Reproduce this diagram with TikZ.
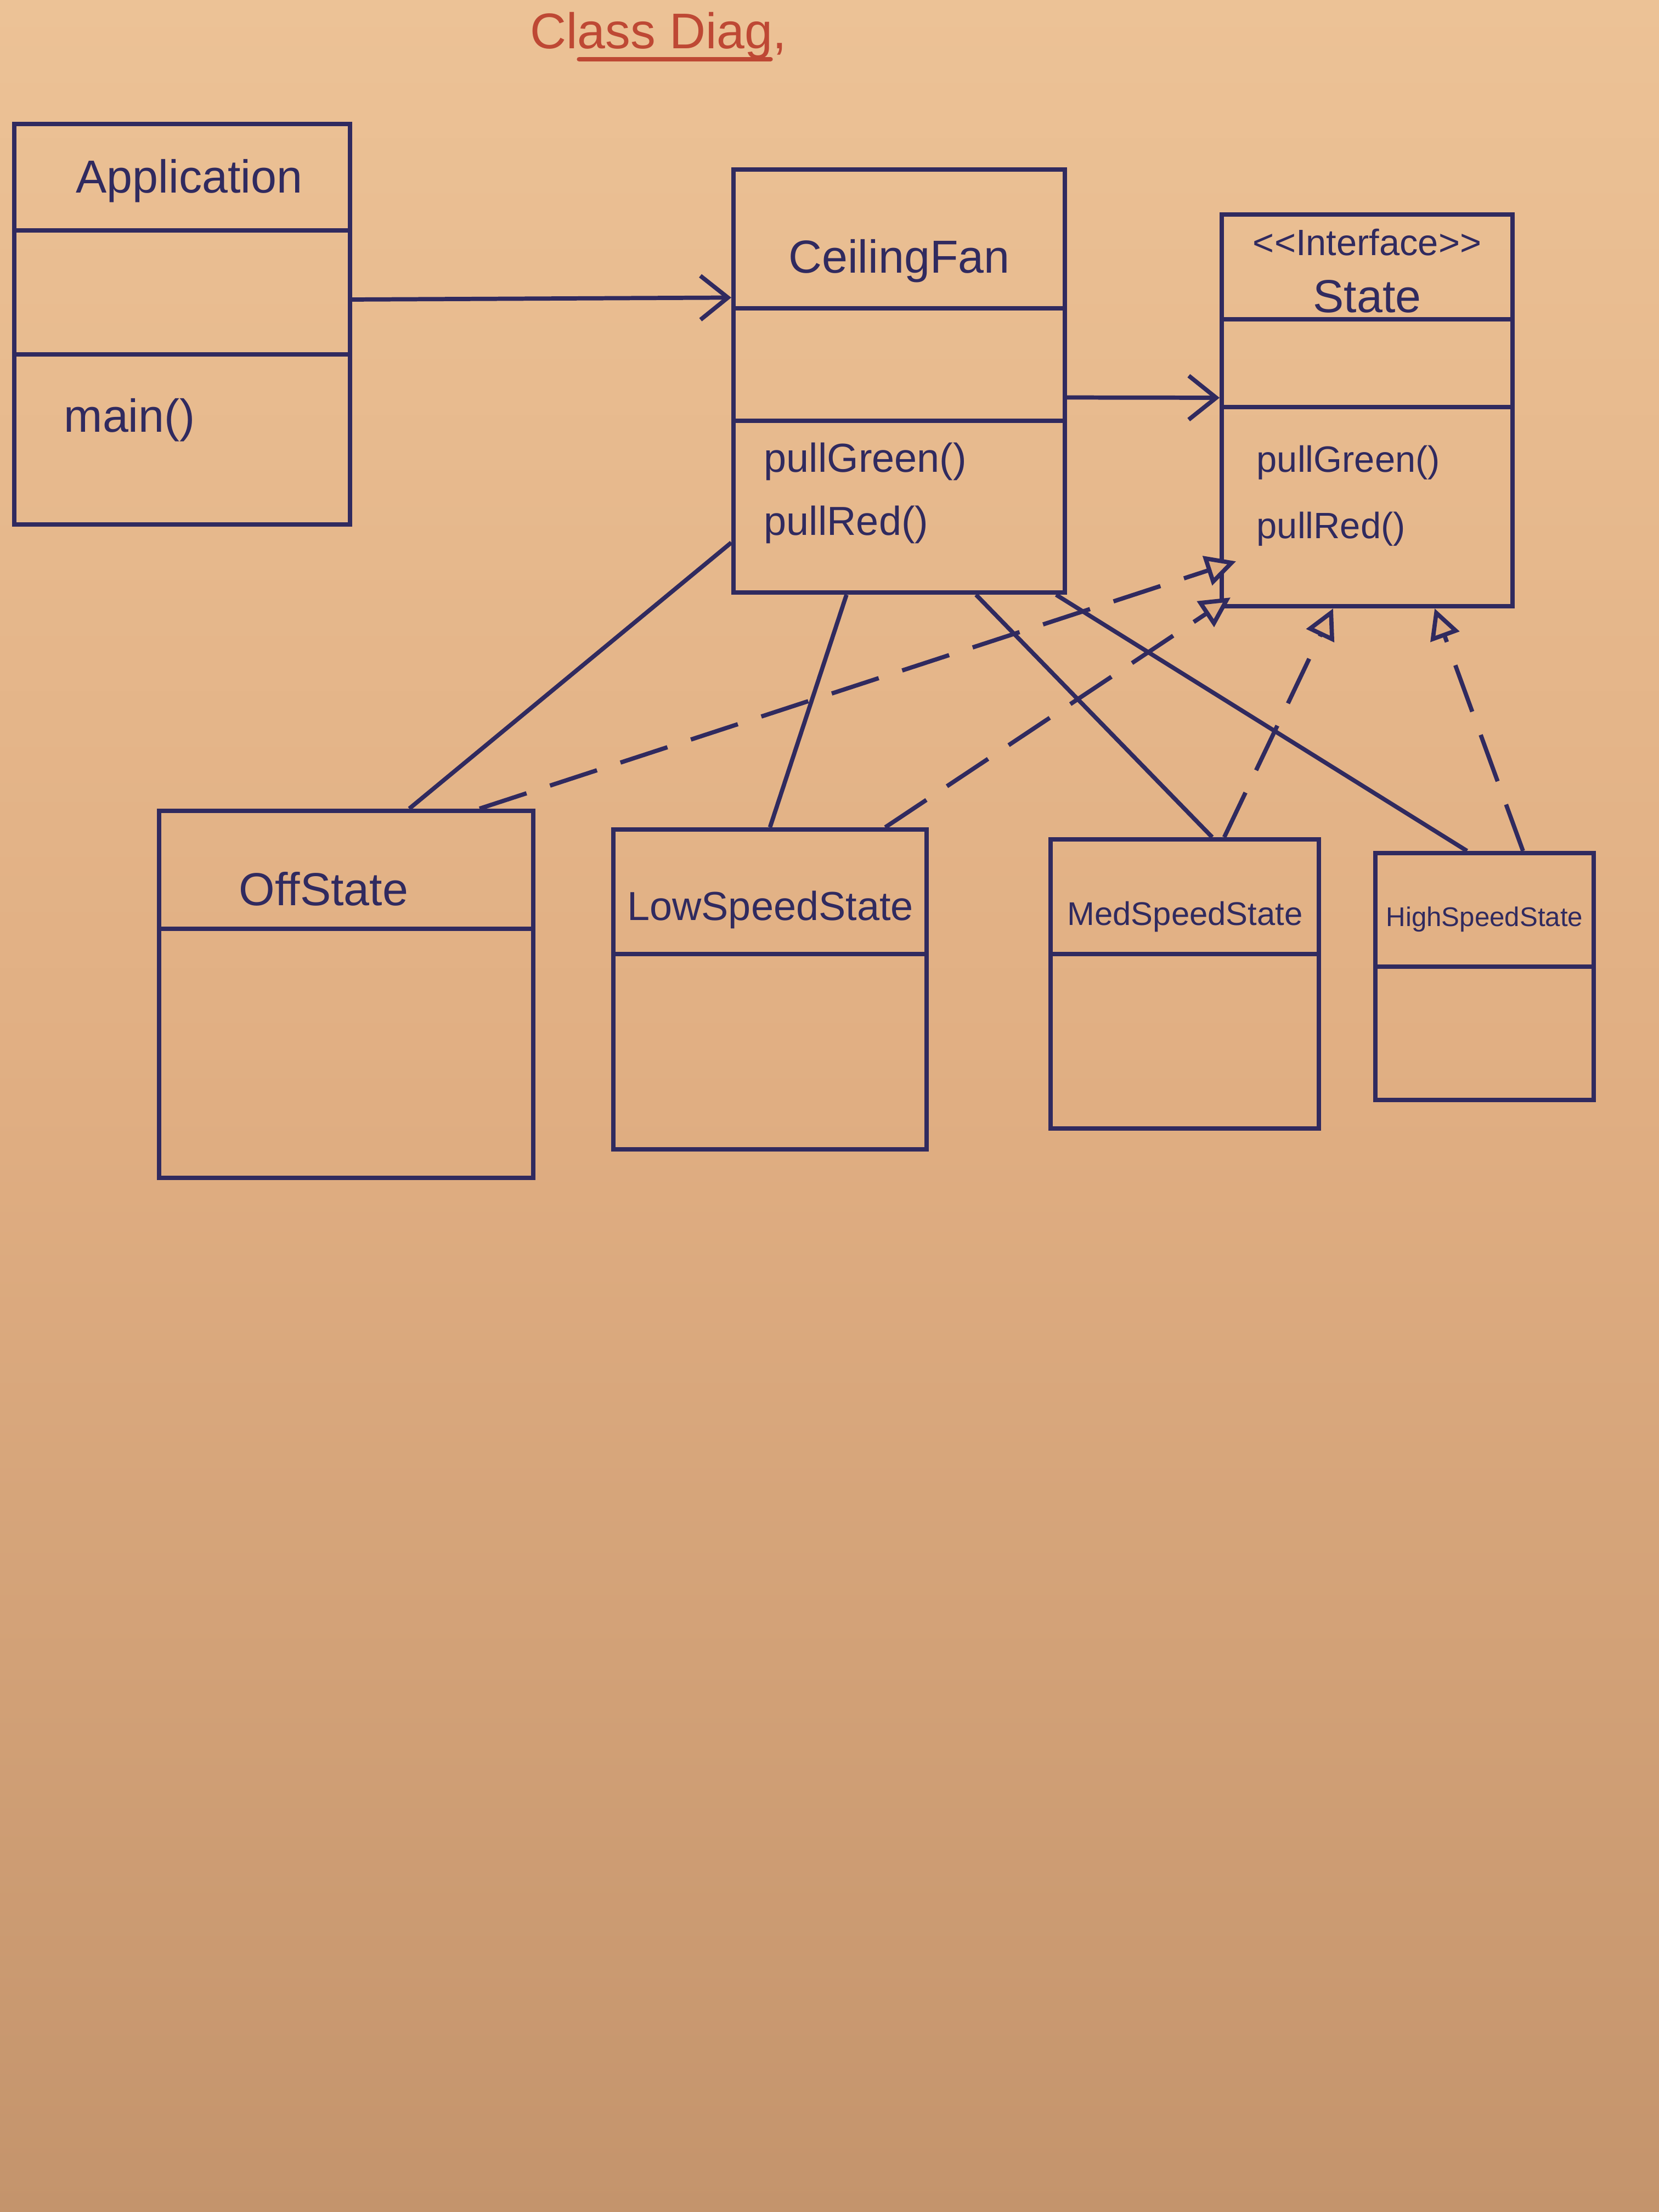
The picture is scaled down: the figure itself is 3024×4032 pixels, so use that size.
\documentclass[tikz,border=0pt]{standalone}
\usepackage{fontspec}
\setmainfont{Liberation Sans}
\usetikzlibrary{arrows.meta,calc}
\definecolor{ink}{RGB}{48,42,95}
\definecolor{paperA}{RGB}{236,194,150}
\definecolor{paperB}{RGB}{224,174,130}
\definecolor{paperC}{RGB}{196,148,108}
\definecolor{redink}{RGB}{190,72,52}
\begin{document}
\begin{tikzpicture}[x=0.01cm,y=-0.01cm,
  classbox/.style={draw=ink,line width=2.2pt,rectangle,inner sep=0pt},
  divider/.style={draw=ink,line width=2.2pt},
  lbl/.style={text=ink,inner sep=0pt,font=\fontsize{24}{28}\selectfont},
  lblm/.style={text=ink,inner sep=0pt,font=\fontsize{21}{25}\selectfont},
  lbls/.style={text=ink,inner sep=0pt,font=\fontsize{19}{23}\selectfont},
  assoc/.style={draw=ink,line width=2.2pt,-{Straight Barb[length=0.5cm,width=0.8cm]}},
  link/.style={draw=ink,line width=2.2pt},
  realize/.style={draw=ink,line width=2.2pt,dash pattern=on 0.9cm off 0.45cm,
     -{Triangle[length=0.55cm,width=0.55cm,fill=paperB,line width=2.2pt]}}
]
% paper
\shade[top color=paperA,bottom color=paperC,middle color=paperB] (0,0) rectangle (3024,4032);
\useasboundingbox (0,0) rectangle (3024,4032);

% title
\node[text=redink,inner sep=0pt,anchor=base,font=\fontsize{26}{30}\selectfont] (title) at (1200,88) {Class Diag,};
\draw[redink,line width=2.4pt,line cap=round] ([xshift=0.9cm,yshift=-0.2cm]title.base west) -- ([xshift=-0.3cm,yshift=-0.2cm]title.base east);

% Application
\node[classbox,minimum width=6.12cm,minimum height=7.3cm] (app) at (332,591) {};
\draw[divider] ([yshift=-1.98cm]app.north west) -- ([yshift=-1.98cm]app.north east);
\draw[divider] ([yshift=-4.24cm]app.north west) -- ([yshift=-4.24cm]app.north east);
\node[lbl] (appname) at (345,330) {Application};
\node[lbl,anchor=west] (appmain) at (116,766) {main()};

% CeilingFan
\node[classbox,minimum width=6.04cm,minimum height=7.71cm] (fan) at (1639,694.5) {};
\draw[divider] ([yshift=-2.57cm]fan.north west) -- ([yshift=-2.57cm]fan.north east);
\draw[divider] ([yshift=-4.62cm]fan.north west) -- ([yshift=-4.62cm]fan.north east);
\node[lbl] (fanname) at (1639,476) {CeilingFan};
\node[lblm,anchor=west] (fang) at (1392,841) {pullGreen()};
\node[lblm,anchor=west] (fanr) at (1392,956) {pullRed()};

% State interface
\node[classbox,minimum width=5.3cm,minimum height=7.14cm] (state) at (2492,748) {};
\draw[divider] ([yshift=-1.95cm]state.north west) -- ([yshift=-1.95cm]state.north east);
\draw[divider] ([yshift=-3.55cm]state.north west) -- ([yshift=-3.55cm]state.north east);
\node[lbls] (stster) at (2492,442) {\textless\kern0pt\textless Interface\textgreater\kern0pt\textgreater};
\node[lbl] (stname) at (2492,540) {State};
\node[lbls,anchor=west] (stg) at (2290,843) {pullGreen()};
\node[lbls,anchor=west] (str) at (2290,964) {pullRed()};

% concrete states
\node[classbox,minimum width=6.82cm,minimum height=6.69cm] (off) at (631,1812.5) {};
\draw[divider] ([yshift=-2.19cm]off.north west) -- ([yshift=-2.19cm]off.north east);
\node[lbl] (offname) at (590,1620) {OffState};

\node[classbox,minimum width=5.71cm,minimum height=5.83cm] (low) at (1403.5,1803.5) {};
\draw[divider] ([yshift=-2.31cm]low.north west) -- ([yshift=-2.31cm]low.north east);
\node[lblm] (lowname) at (1404,1658) {LowSpeedState};

\node[classbox,minimum width=4.89cm,minimum height=5.27cm] (med) at (2159.5,1793.5) {};
\draw[divider] ([yshift=-2.13cm]med.north west) -- ([yshift=-2.13cm]med.north east);
\node[text=ink,inner sep=0pt,font=\fontsize{17}{20}\selectfont] (medname) at (2160,1671) {MedSpeedState};

\node[classbox,minimum width=3.98cm,minimum height=4.5cm] (high) at (2706,1780) {};
\draw[divider] ([yshift=-2.11cm]high.north west) -- ([yshift=-2.11cm]high.north east);
\node[text=ink,inner sep=0pt,font=\fontsize{14}{17}\selectfont] (highname) at (2706,1676) {HighSpeedState};

% associations
\draw[assoc] ([yshift=0.45cm]app.east) -- ([yshift=1.52cm]fan.west);
\draw[assoc] ([yshift=-0.3cm]fan.east) -- ([yshift=0.23cm]state.west);

% CeilingFan to each state
\draw[link] ([yshift=0.95cm]fan.south west) -- ([xshift=1.15cm]off.north);
\draw[link] ([xshift=-0.96cm]fan.south) -- (low.north);
\draw[link] ([xshift=1.4cm]fan.south) -- ([xshift=0.5cm]med.north);
\draw[link] ([xshift=-0.2cm]fan.south east) -- ([xshift=-0.32cm]high.north);

% realizations
\draw[realize] ([xshift=2.43cm]off.north) -- ([yshift=-2.75cm,xshift=0.3cm]state.west);
\draw[realize] ([xshift=2.1cm]low.north) -- ([yshift=0.2cm,xshift=0.2cm]state.south west);
\draw[realize] ([xshift=0.72cm]med.north) -- ([xshift=-0.62cm]state.south);
\draw[realize] ([xshift=0.7cm]high.north) -- ([xshift=1.23cm]state.south);
\end{tikzpicture}
\end{document}
